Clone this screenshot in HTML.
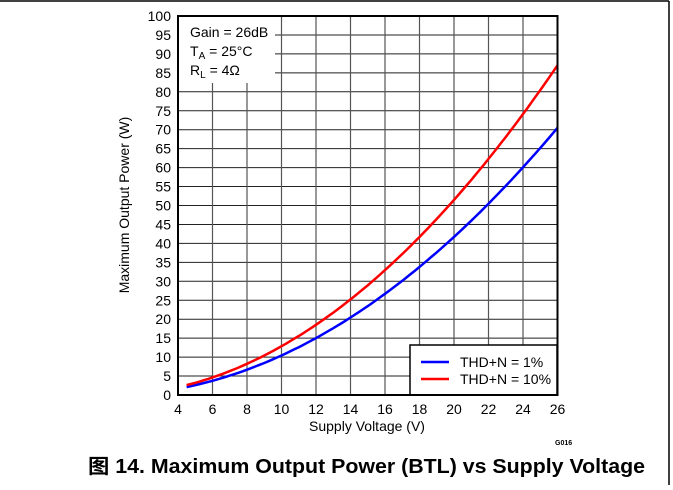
<!DOCTYPE html>
<html><head><meta charset="utf-8"><style>
body{margin:0;background:#fff;width:673px;height:485px;overflow:hidden}
text{font-family:"Liberation Sans","Noto Sans CJK SC",sans-serif;fill:#000}
</style></head><body>
<svg id="s" width="673" height="485" xmlns="http://www.w3.org/2000/svg">
<line x1="0" y1="1" x2="669" y2="1" stroke="#000" stroke-width="1.5"/>
<line x1="669" y1="1" x2="669" y2="485" stroke="#000" stroke-width="1.5"/>
<g id="grid"></g>
<rect x="179" y="16" width="96" height="66" fill="#fff"/>
<text x="190" y="37" font-size="14">Gain = 26dB</text>
<text x="190" y="56" font-size="14">T<tspan font-size="10" dy="3">A</tspan><tspan dy="-3"> = 25°C</tspan></text>
<text x="190" y="75" font-size="14">R<tspan font-size="10" dy="3">L</tspan><tspan dy="-3"> = 4Ω</tspan></text>
<g id="curves"></g>
<rect x="410" y="345" width="147" height="50" fill="#fff" stroke="#000" stroke-width="1.5"/>
<line x1="421" y1="362" x2="449" y2="362" stroke="#00f" stroke-width="2.5"/>
<line x1="421" y1="379" x2="449" y2="379" stroke="#f00" stroke-width="2.5"/>
<text x="460" y="367" font-size="14">THD+N = 1%</text>
<text x="460" y="384" font-size="14">THD+N = 10%</text>
<rect x="178" y="16" width="379.5" height="379" fill="none" stroke="#000" stroke-width="2"/>
<g id="lab" font-size="14"></g>
<text x="367" y="431" font-size="14" text-anchor="middle">Supply Voltage (V)</text>
<text transform="translate(129,205) rotate(-90)" font-size="14" text-anchor="middle">Maximum Output Power (W)</text>
<text x="555" y="445" font-size="7" font-weight="bold" fill="#333">G016</text>
<text x="88" y="473" font-size="20" font-weight="bold" textLength="557" lengthAdjust="spacingAndGlyphs">图 14. Maximum Output Power (BTL) vs Supply Voltage</text>
</svg>
<script>
var ns="http://www.w3.org/2000/svg";
function X(v){return 178+(v-4)*17.25}
function Y(p){return 395-p*3.79}
function el(p,t,a){var e=document.createElementNS(ns,t);for(var k in a)e.setAttribute(k,a[k]);p.appendChild(e);return e}
var g=document.getElementById("grid"),lab=document.getElementById("lab");
for(var p=0;p<=100;p+=5){var y=Y(p);
 if(p>0&&p<100)el(g,"line",{x1:(p>=85?275:178),y1:y,x2:557,y2:y,stroke:"#222","stroke-width":1});
 var t=el(lab,"text",{x:171,y:y+5,"text-anchor":"end"});t.textContent=p;}
for(var v=4;v<=26;v+=2){var x=X(v);
 if(v>4&&v<26)el(g,"line",{x1:x,y1:(v<=8?83:16),x2:x,y2:395,stroke:"#555","stroke-width":1.2});
 var t=el(lab,"text",{x:x,y:414,"text-anchor":"middle"});t.textContent=v;}
var c=document.getElementById("curves");
[[0.1043,"#00f"],[0.1287,"#f00"]].forEach(function(a){var d="";
 for(var v=4.5;v<=26.001;v+=0.25){d+=(d?"L":"M")+X(v).toFixed(1)+","+Y(a[0]*v*v).toFixed(1);}
 el(c,"path",{d:d,fill:"none",stroke:a[1],"stroke-width":2.5});});
</script>
</body></html>
